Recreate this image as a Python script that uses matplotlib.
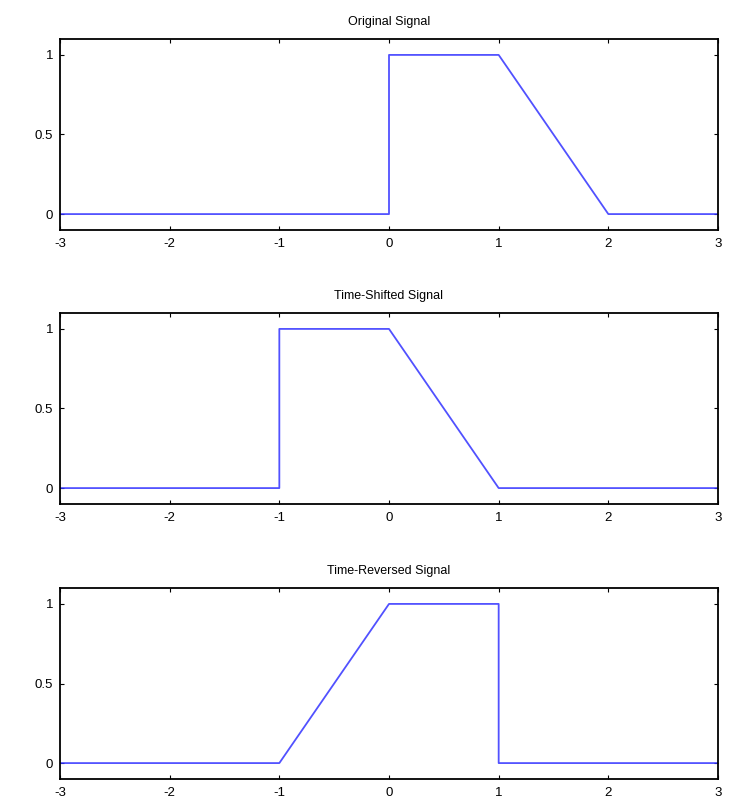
import matplotlib.pyplot as plt

plt.rcParams['font.family'] = ['Liberation Sans', 'DejaVu Sans']
plt.rcParams['axes.unicode_minus'] = False

# signal breakpoints
t_orig = [-3, 0, 0, 1, 2, 3]
x_orig = [0, 0, 1, 1, 0, 0]

t_shift = [-3, -1, -1, 0, 1, 3]
x_shift = [0, 0, 1, 1, 0, 0]

t_rev = [-3, -1, 0, 1, 1, 3]
x_rev = [0, 0, 1, 1, 0, 0]

titles = ["Original Signal", "Time-Shifted Signal", "Time-Reversed Signal"]
signals = [(t_orig, x_orig), (t_shift, x_shift), (t_rev, x_rev)]

fig = plt.figure(figsize=(7.36, 8.05), dpi=100)

W, H = 736, 805
left, right = 60, 718
tops = [39, 313, 588]
ax_h = 191

for top, title, (t, x) in zip(tops, titles, signals):
    ax = fig.add_axes([left / W, 1 - (top + ax_h) / H, (right - left) / W, ax_h / H])
    ax.plot(t, x, color="#3333ff", linewidth=1.3, alpha=0.85)
    ax.set_xlim(-3, 3)
    ax.set_ylim(-0.1, 1.1)
    ax.set_xticks([-3, -2, -1, 0, 1, 2, 3])
    ax.set_yticks([0, 0.5, 1])
    ax.set_yticklabels(["0", "0.5", "1"])
    ax.tick_params(direction="in", top=True, right=True, length=3, width=0.8,
                   labelsize=9.5)
    ax.tick_params(axis="x", pad=6)
    ax.tick_params(axis="y", pad=5)
    for s in ax.spines.values():
        s.set_linewidth(1.3)
    ax.set_title(title, fontsize=9, pad=10)

fig.savefig("out.png", dpi=100)
